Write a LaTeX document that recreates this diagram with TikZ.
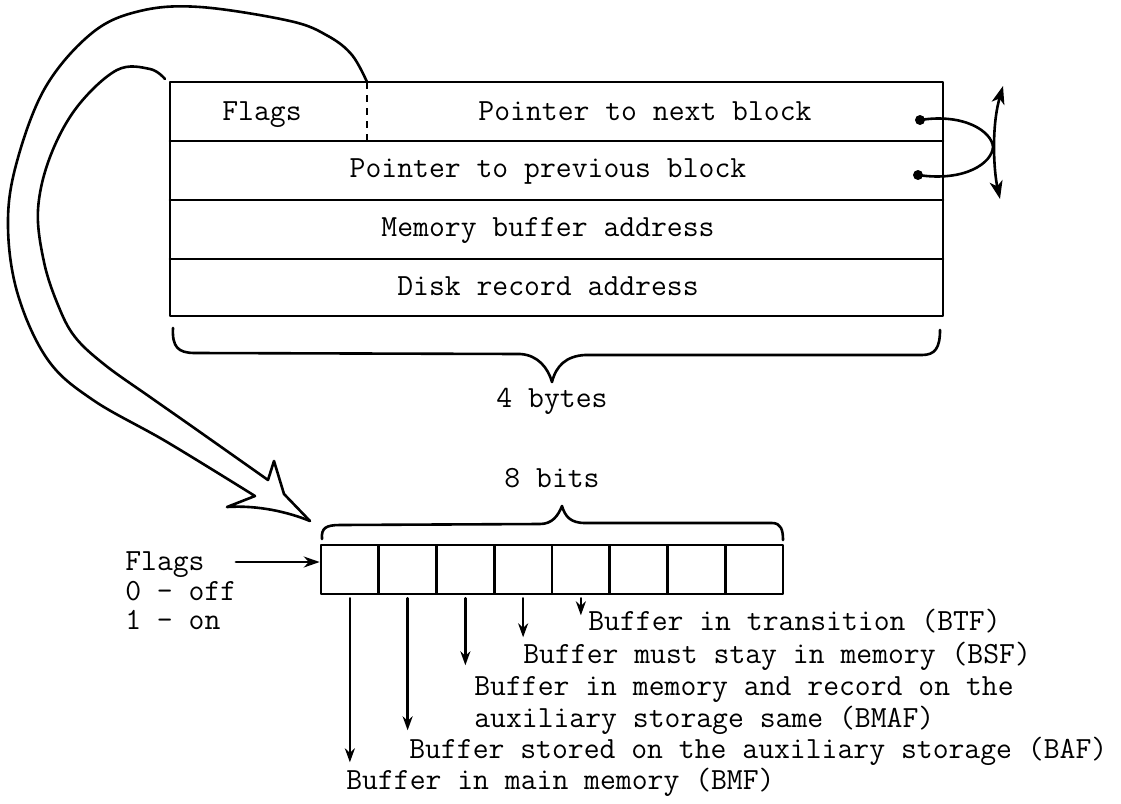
\documentclass[tikz,border=0pt]{standalone}
\usetikzlibrary{arrows.meta}
\begin{document}
\begin{tikzpicture}[x=1pt,y=-1pt, line width=2.6pt, line join=round, line cap=round,
  lbl/.style={font=\fontsize{30.8}{34}\selectfont\ttfamily, inner sep=0pt, anchor=base},
  lblw/.style={font=\fontsize{30.8}{34}\selectfont\ttfamily, inner sep=0pt, anchor=base west},
  arr/.style={-{Stealth[length=14pt,width=10pt]}},
  cellbox/.style={draw, minimum width=57.75pt, minimum height=49pt, inner sep=0pt},
  dotnode/.style={circle, fill, minimum size=10pt, inner sep=0pt},
]
\useasboundingbox (0,0) rectangle (1121,803);

% ---- record table ----
\draw (170,82) rectangle (943,316);
\foreach \yy in {141,200,259} \draw (170,\yy) -- (943,\yy);
\draw[dash pattern=on 7pt off 6pt, line cap=butt] (367,82) -- (367,141);

\node[lbl] (tflags) at (262,120) {Flags};
\node[lbl] (tnext)  at (645,120) {Pointer to next block};
\node[lbl] (tprev)  at (548,177) {Pointer to previous block};
\node[lbl] (tmem)   at (548,236) {Memory buffer address};
\node[lbl] (tdisk)  at (548,295) {Disk record address};

% brace under table
\draw (173,328) .. controls (172,347) and (178,353) .. (195,353) -- (520,354)
      .. controls (538,355) and (548,368) .. (552,382)
      .. controls (556,366) and (566,356) .. (585,355) -- (922,355)
      .. controls (935,355) and (940,348) .. (940,330);
\node[lbl] (tbytes) at (552,407) {4 bytes};

% ---- pointer links at right ----
\node[dotnode] (d1) at (920,120) {};
\node[dotnode] (d2) at (918,175) {};
\draw (d1.center) .. controls (965,113) and (992,132) .. (993,147)
      .. controls (992,163) and (965,182) .. (d2.center);
\coordinate (vtop) at (1003,86);
\coordinate (vbot) at (1000,199);
\draw[{Stealth[length=18pt,width=13pt,inset=5pt]}-{Stealth[length=18pt,width=13pt,inset=5pt]}]
  (vbot) .. controls (994,172) and (991,128) .. (vtop);

% ---- big hollow arrow ----
\draw plot[smooth, tension=0.6] coordinates {(367,82) (352,55) (328,36) (290,21) (200,7) (140,11) (92,33) (45,88) (16,165) (8,227) (18,295) (48,360) (93,400) (167,442) (255,496)}
  -- (227,507) .. controls (258,505) and (288,512) .. (310,521);
\draw plot[smooth, tension=0.6] coordinates {(165,79) (150,69) (117,70) (77,107) (50,157) (38,210) (44,262) (58,305) (75,337) (105,365) (150,397) (190,425) (268,480)}
  -- (274,461) -- (284,494) -- (310,521);

% ---- 8-bit flag byte ----
\foreach \i in {1,...,8}
  \node[cellbox] (c\i) at ({321+57.75*(\i-0.5)},569.5) {};

\draw (322,539) .. controls (321,528) and (326,525) .. (340,525) -- (540,524)
      .. controls (552,524) and (558,516) .. (562,506)
      .. controls (565,516) and (570,523) .. (585,523) -- (772,523)
      .. controls (781,523) and (783,530) .. (783,540);
\node[lbl] (tbits) at (552,487) {8 bits};

\node[lblw] (lflags) at (124,570) {Flags};
\node[lblw] (loff) at (124,600) {0 - off};
\node[lblw] (lon) at (124,629) {1 - on};
\draw[-{Stealth[length=16pt,width=11pt]}] ([xshift=30pt]lflags.base east) ++(0,-8) -- (c1.west |- 0,562);

% bit arrows and descriptions
\draw[arr] (c1.south) ++(0,3) -- ++(0,164);
\draw[arr] (c2.south) ++(0,3) -- ++(0,132);
\draw[arr] (c3.south) ++(0,3) -- ++(0,67);
\draw[arr] (c4.south) ++(0,3) -- ++(0,39);
\draw[arr] (c5.south) ++(0,3) -- ++(0,17);

\node[lblw] (bbtf)  at (587,630) {Buffer in transition (BTF)};
\node[lblw] (bbsf)  at (522,663) {Buffer must stay in memory (BSF)};
\node[lblw] (bbma1) at (473,695) {Buffer in memory and record on the};
\node[lblw] (bbma2) at (473,727) {auxiliary storage same (BMAF)};
\node[lblw] (bbaf)  at (408,758) {Buffer stored on the auxiliary storage (BAF)};
\node[lblw] (bbmf)  at (345,789) {Buffer in main memory (BMF)};
\end{tikzpicture}
\end{document}
